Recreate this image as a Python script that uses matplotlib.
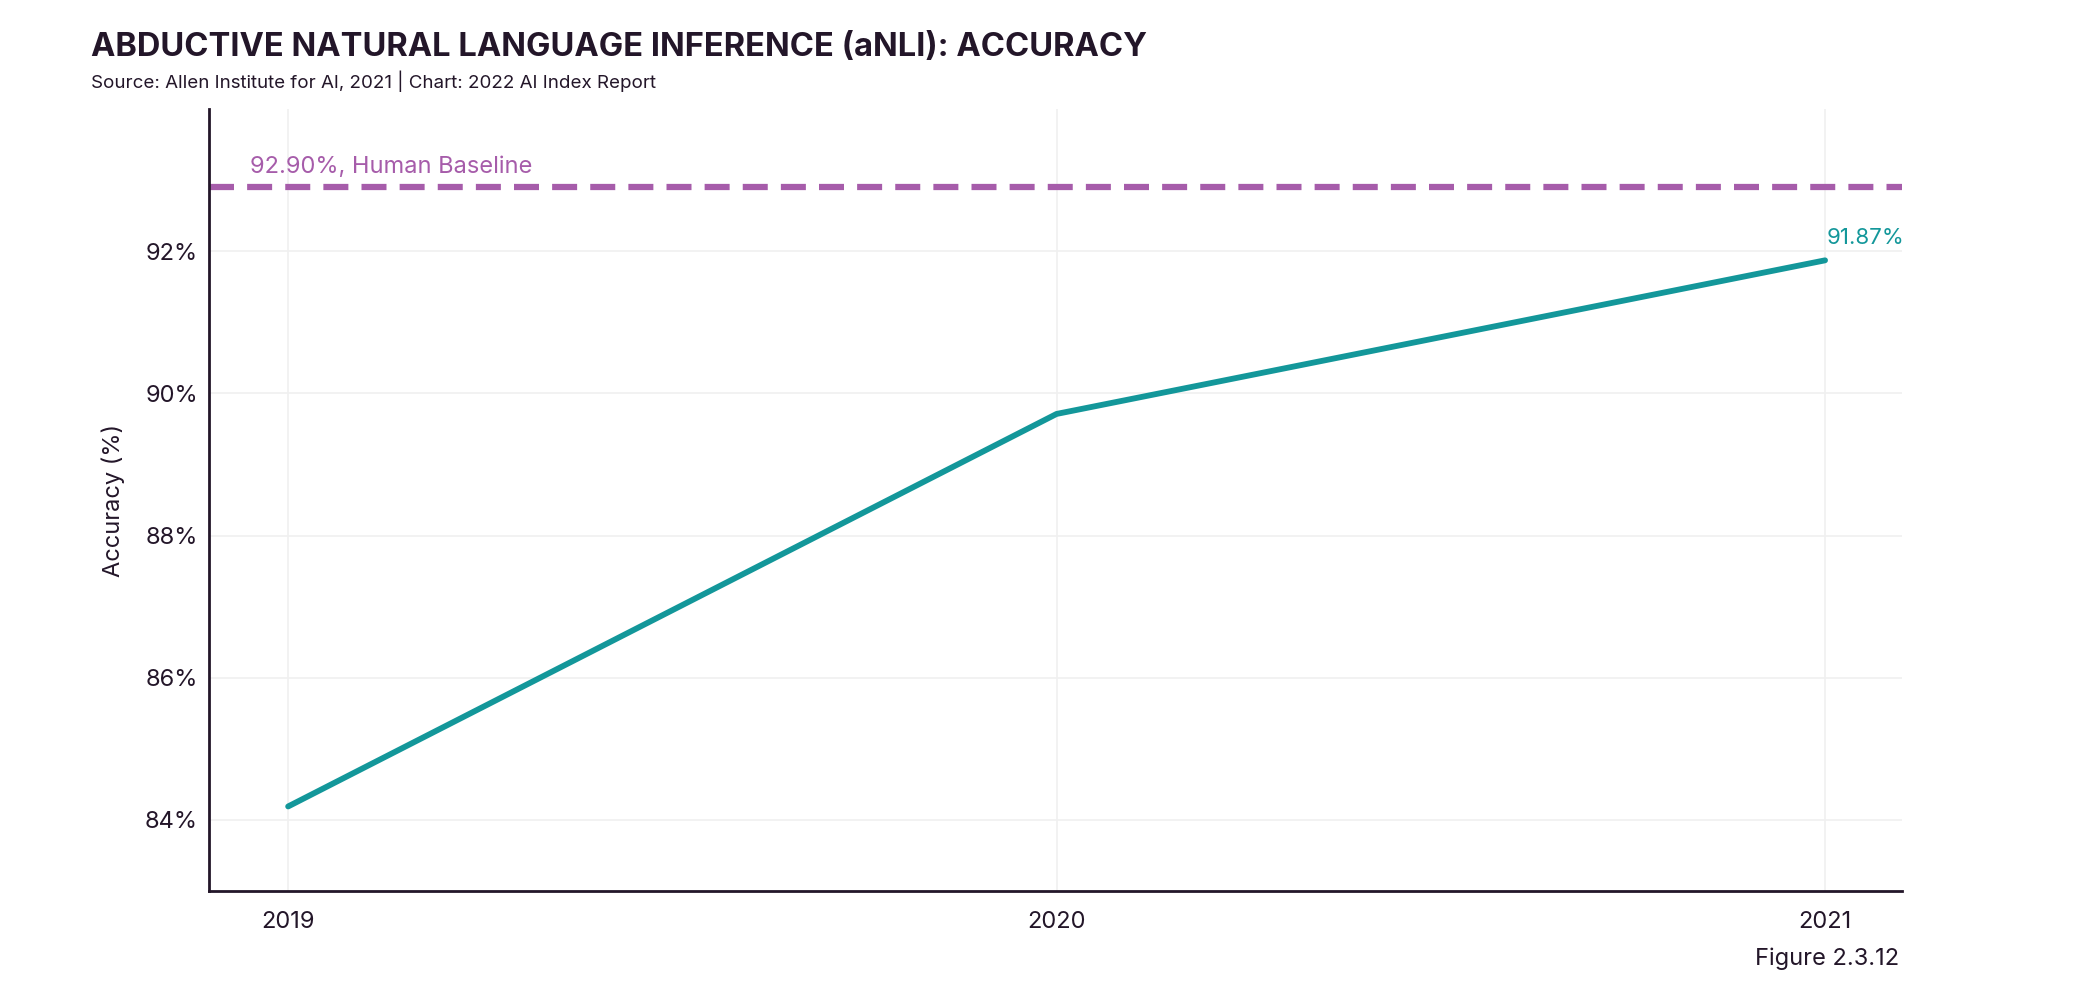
import matplotlib
matplotlib.use("Agg")
import matplotlib.pyplot as plt
from matplotlib.ticker import FuncFormatter

years = [2019, 2020, 2021]
accuracy = [84.19, 89.71, 91.87]
human_baseline = 92.90
yticks = [84, 86, 88, 90, 92]

title = "ABDUCTIVE NATURAL LANGUAGE INFERENCE (aNLI): ACCURACY"
subtitle = "Source: Allen Institute for AI, 2021 | Chart: 2022 AI Index Report"
figure_label = "Figure 2.3.12"

plt.rcParams['font.family'] = ['Inter', 'DejaVu Sans']
dark = '#231629'
teal = '#13979a'
purple = '#a65caa'

fig = plt.figure(figsize=(20.9, 10.08), dpi=100)
ax = fig.add_axes([0.1, 0.116, 0.81, 0.776])

ax.plot(years, accuracy, color=teal, lw=4.2, solid_capstyle='round', zorder=3)
ax.axhline(human_baseline, color=purple, lw=4.5, dashes=(4, 2.1), zorder=2)
ax.text(2019 - 0.05, human_baseline + 0.13, f"{human_baseline:.2f}%, Human Baseline",
        color=purple, fontsize=17, ha='left', va='bottom')
ax.annotate(f"{accuracy[-1]:.2f}%", (years[-1], accuracy[-1]), xytext=(1, 9),
            textcoords='offset points', color=teal, fontsize=16, ha='left', va='bottom')

ax.set_xlim(2018.897, 2021.10)
ax.set_ylim(83, 94)
ax.set_xticks(years)
ax.set_yticks(yticks)
ax.yaxis.set_major_formatter(FuncFormatter(lambda v, p: f"{v:.0f}%"))
ax.grid(True, color='#f0f0f0', lw=1.2, zorder=0)
ax.tick_params(length=0, labelsize=17, colors=dark, pad=8)
ax.tick_params(axis='x', pad=14)
for s in ['top', 'right']:
    ax.spines[s].set_visible(False)
for s in ['left', 'bottom']:
    ax.spines[s].set_color(dark)
    ax.spines[s].set_linewidth(2)
ax.set_ylabel("Accuracy (%)", fontsize=17, color=dark, labelpad=14)

fig.text(91 / 2090, 1 - 47 / 1008, title, fontsize=23.5, fontweight='bold', color=dark,
         ha='left', va='center')
fig.text(91 / 2090, 1 - 81 / 1008, subtitle, fontsize=13.5, color=dark, ha='left', va='center')
fig.text(1899 / 2090, 1 - 959 / 1008, figure_label, fontsize=17, color=dark, ha='right', va='center')

fig.savefig("out.png", dpi=100)
